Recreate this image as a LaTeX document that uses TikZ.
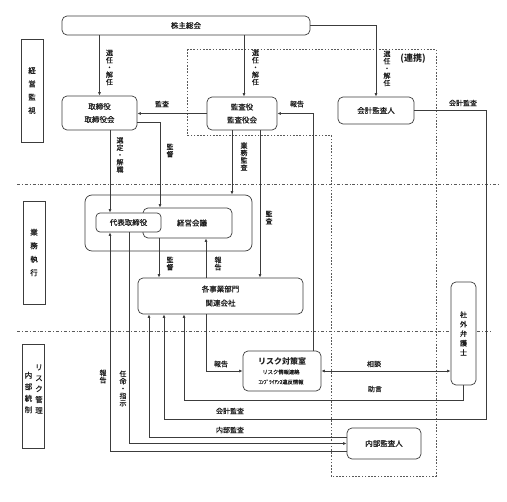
\documentclass[tikz,border=0pt]{standalone}
\usepackage{fontspec}
\setmainfont{Noto Sans CJK JP}[FakeBold=0.5, BoldFeatures={FakeBold=0}]
\usetikzlibrary{arrows.meta}
\definecolor{lc}{HTML}{3C3C3C}
\definecolor{dc}{HTML}{5A5A5A}
\definecolor{tc}{HTML}{1E1E1E}
\begin{document}
\begin{tikzpicture}[x=1pt,y=-1pt,
  box/.style={draw=lc, line width=0.7pt, rounded corners=5pt, fill=white, inner sep=0pt, align=center, text=tc, font=\fontsize{7.5}{13}\selectfont},
  side/.style={draw=lc, line width=0.7pt, fill=white, inner sep=0pt, minimum width=22pt},
  arr/.style={draw=lc, line width=0.7pt, -{Latex[length=3.5pt,width=3pt]}},
  darr/.style={draw=lc, line width=0.7pt, {Latex[length=3.5pt,width=3pt]}-{Latex[length=3.5pt,width=3pt]}},
  lbl/.style={font=\fontsize{7}{7}\selectfont, inner sep=0pt, align=center, text=tc},
  vlbl/.style={font=\fontsize{7}{7.3}\selectfont, inner sep=0pt, align=center, text=tc},
  stxt/.style={font=\fontsize{7.5}{13.5}\selectfont, inner sep=0pt, align=center, text=tc},
  dline/.style={draw=dc, line width=0.6pt, dash pattern=on 1.6pt off 1.6pt},
  ddline/.style={draw=dc, line width=0.6pt, dash pattern=on 3pt off 2pt on 0.8pt off 2pt}
]
\useasboundingbox (0,0) rectangle (507,502);

% background separators
\draw[ddline] (17,184) -- (500,184);
\draw[ddline] (17,331) -- (492,331);
\draw[dline] (187,49) -- (436,49) -- (436,476) -- (331,476) -- (331,135) -- (187,135) -- cycle;

% side labels
\node[side, minimum height=103pt] (s1) at (32,90.5) {};
\node[stxt, font=\fontsize{7.5}{13.3}\selectfont] (s1t) at (32,90.5) {経\\営\\監\\視};
\node[side, minimum height=103pt] (s2) at (34,252.5) {};
\node[stxt] (s2t) at (34,252.5) {業\\務\\執\\行};
\node[side, minimum height=104pt] (s3) at (33,396) {};
\node[stxt, font=\fontsize{7.5}{10.8}\selectfont] (s3a) at (39,389) {リ\\ス\\ク\\管\\理};
\node[stxt, font=\fontsize{7.5}{11.5}\selectfont] (s3b) at (28.5,392.5) {内\\部\\統\\制};

% boxes
\node[box, minimum width=248pt, minimum height=19pt] (kabu) at (186,25.5) {株主総会};
\node[box, minimum width=75pt, minimum height=34pt] (tori) at (99.5,113) {取締役\\取締役会};
\node[box, minimum width=70pt, minimum height=33pt] (kansa) at (242,113.5) {監査役\\監査役会};
\node[box, minimum width=76pt, minimum height=27pt] (kaikei) at (376,110.5) {会計監査人};
\node[box, minimum width=167pt, minimum height=56pt, rounded corners=7pt] (grp) at (168.5,223) {};
\node[box, minimum width=89pt, minimum height=30pt] (keiei) at (187.5,223) {};
\node[lbl, font=\fontsize{7.5}{9}\selectfont] (keieit) at (192,223) {経営会議};
\node[box, minimum width=65pt, minimum height=19pt, rounded corners=4pt] (daihyo) at (128.5,222.5) {代表取締役};
\node[box, minimum width=165pt, minimum height=36pt, font=\fontsize{7.5}{14}\selectfont] (jigyo) at (220.5,296) {各事業部門\\関連会社};
\node[box, minimum width=78pt, minimum height=40pt] (risk) at (282,371) {};
\node[lbl, font=\fontsize{8}{9}\selectfont\bfseries] (riskt) at (282,361.5) {リスク対策室};
\node[lbl, font=\fontsize{5.3}{10}\selectfont] (riskb) at (281,377) {リスク情報連絡\\ｺﾝﾌﾟﾗｲｱﾝｽ違反情報};
\node[box, minimum width=25pt, minimum height=103pt, font=\fontsize{7}{9.5}\selectfont] (bengo) at (463.5,333.5) {社\\外\\弁\\護\\士};
\node[box, minimum width=74pt, minimum height=31pt] (naibu) at (384,443.5) {内部監査人};

% connectors
\draw[arr] (kabu.south -| tori.north) -- (tori.north);
\draw[arr] (kabu.south -| 244,0) -- (kansa.north -| 244,0);
\draw[arr] (kabu.east) -| (kaikei.north);
\draw[arr] (kansa.west) -- (tori.east |- kansa.west);
\draw[arr] (risk.north -| 313,0) |- (kansa.east);
\draw[arr] (kaikei.east) -| (486,419) -| (jigyo.south -| 164,0);
\draw[arr] (tori.south -| 110,0) -- (daihyo.north -| 110,0);
\draw[arr] (tori.east |- 0,122) -| (keiei.north -| 160,0);
\draw[arr] (kansa.south -| 232,0) -- (grp.north -| 232,0);
\draw[arr] (kansa.south -| 260,0) -- (jigyo.north -| 260,0);
\draw[arr] (keiei.south -| 159,0) -- (jigyo.north -| 159,0);
\draw[arr] (jigyo.north -| 206,0) -- (keiei.south -| 206,0);
\draw[arr] (jigyo.south -| 206,0) |- (risk.west);
\draw[arr] (bengo.south) -- ++(0,15) -| (jigyo.south -| 184,0);
\draw[darr] (risk.east) -- (bengo.west |- risk.east);
\draw[arr] (naibu.west |- 0,437) -| (jigyo.south -| 149,0);
\draw[arr] (daihyo.south -| 129,0) |- (naibu.west);
\draw[arr] (naibu.west |- 0,451) -| (daihyo.south -| 110,0);

% labels
\node[vlbl] (l1) at (109.5,67.5) {選\\任\\・\\解\\任};
\node[vlbl] (l2) at (255.5,67.5) {選\\任\\・\\解\\任};
\node[vlbl] (l3) at (387,68.5) {選\\任\\・\\解\\任};
\node[lbl, font=\fontsize{9}{10}\selectfont\bfseries] (renkei) at (413,59) {(連携)};
\node[lbl] (l4) at (162,104) {監査};
\node[lbl] (l5) at (297,104) {報告};
\node[lbl] (l6) at (463,103) {会計監査};
\node[vlbl] (l7) at (120,155) {選\\定\\・\\解\\職};
\node[vlbl] (l8) at (170,150.5) {監\\督};
\node[vlbl] (l9) at (244,156.5) {業\\務\\監\\査};
\node[vlbl] (l10) at (269,217.5) {監\\査};
\node[vlbl] (l11) at (170,263.5) {監\\督};
\node[vlbl] (l12) at (218,263.5) {報\\告};
\node[lbl] (l13) at (221,364) {報告};
\node[lbl] (l14) at (374,364) {相談};
\node[lbl] (l15) at (375,389) {助言};
\node[lbl] (l16) at (230,411) {会計監査};
\node[lbl] (l17) at (230,430) {内部監査};
\node[vlbl] (l18) at (103,376.5) {報\\告};
\node[vlbl] (l19) at (123,388.5) {任\\命\\・\\指\\示};
\end{tikzpicture}
\end{document}
